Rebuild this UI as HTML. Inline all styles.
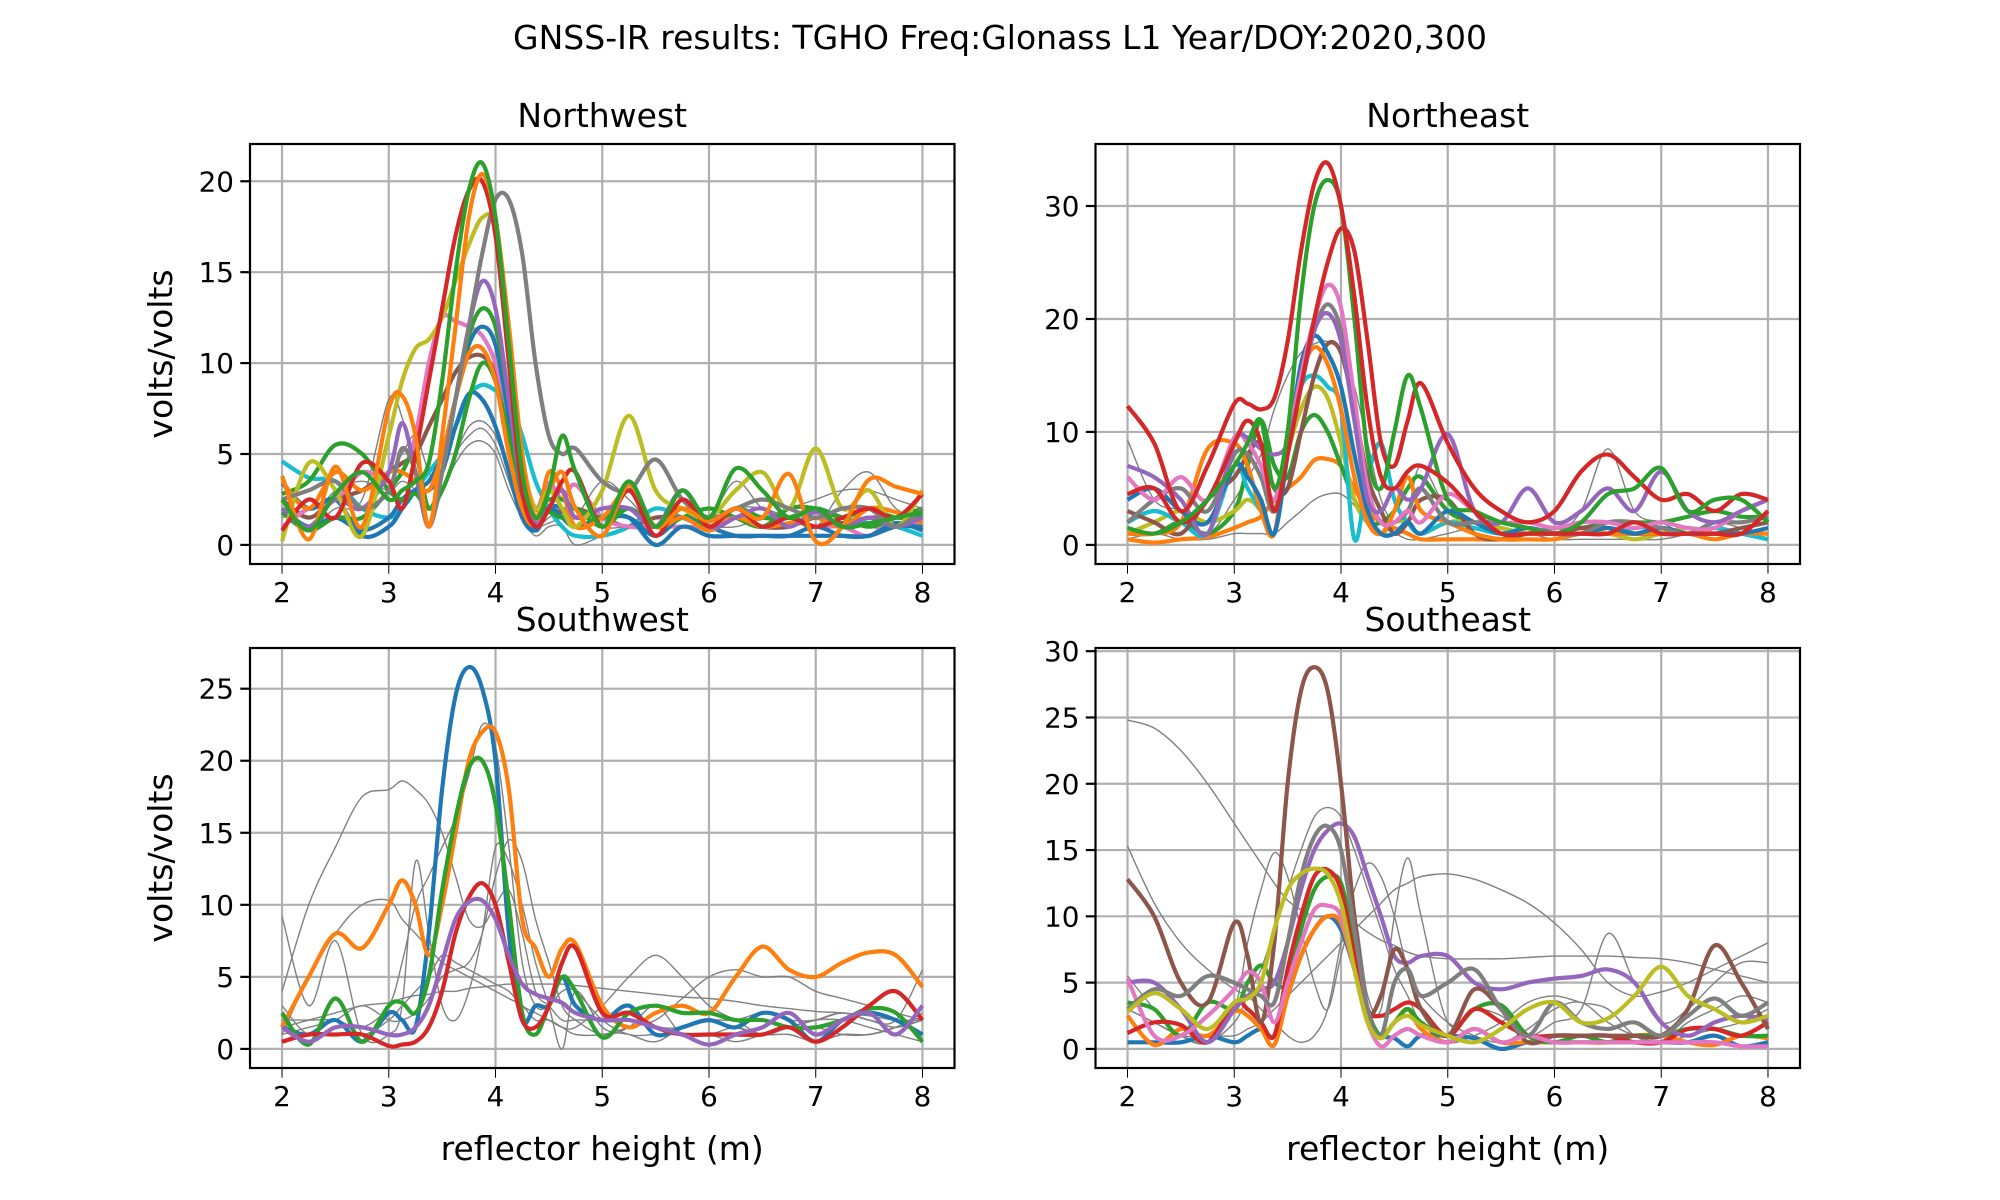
<!DOCTYPE html>
<html><head><meta charset="utf-8"><style>
html,body{margin:0;padding:0;background:#fff}
svg{display:block;font-family:"DejaVu Sans","Liberation Sans",sans-serif}
</style></head><body>
<svg id="fig" width="2000" height="1200" viewBox="0 0 2000 1200" xmlns="http://www.w3.org/2000/svg">
<rect width="2000" height="1200" fill="#fff"/>
<text x="1000" y="49" font-size="33" text-anchor="middle">GNSS-IR results: TGHO Freq:Glonass L1 Year/DOY:2020,300</text>
</svg>
<script>
const xGrid=[2,2.25,2.5,2.75,3,3.125,3.25,3.375,3.5,3.625,3.75,3.875,4,4.125,4.25,4.375,4.5,4.625,4.75,5,5.25,5.5,5.75,6,6.25,6.5,6.75,7,7.25,7.5,7.75,8];
const xTicks=[2,3,4,5,6,7,8];
const nwTicks=[0,5,10,15,20];
const neTicks=[0,10,20,30];
const swTicks=[0,5,10,15,20,25];
const seTicks=[0,5,10,15,20,25,30];
const C=['#1f77b4','#ff7f0e','#2ca02c','#d62728','#9467bd','#8c564b','#e377c2','#7f7f7f','#bcbd22','#17becf'];

const nwGray=[
[1.5,2,2.5,3,4,5,6,4,3,5,6.5,6.8,6,4,2,1,1.5,2,2,1,1,1,1,1,1,1.5,2,2.5,3,3,2.5,2],
[2,1,2,2.5,8,7,4,1,3,5,6,6.4,5.5,3.5,1.5,0.5,1,1,0,0.5,1,1,1.5,1,2,2,1.5,1,3,4,2,1.5],
[2.5,1.5,3,3.5,3,3.5,3,2,3,4.5,5.5,5.7,5,3,1.5,1,1.2,1.5,1.5,3.5,2.5,1,1.5,1.5,3.5,2,1.5,1,2,1,1,1]];
const nwSeries=[
[9,[4.6,3.7,3.5,2,1.5,2,3,4,5,6.5,8.2,8.8,8.5,8,6,3.5,2,1,0.5,0.5,1,2,1.5,1,1.5,1.5,1.5,2,1.5,1.2,1,0.5]],
[5,[2.5,1.5,2.5,3,4,4.5,5,6.5,8,9.5,10.3,10.4,9.5,7,4,2,2,1.8,2,1.5,1,1.5,1.5,1.5,1.5,1,1,1.5,1.2,1.5,1.5,2]],
[6,[1,2,2.5,4,3.5,4,6,10,12.5,12.3,12,11.5,10,7,4,2,3.4,2.5,3.3,1.5,1,1,1,1,1.5,1,1.5,1,1,0.5,1.5,1]],
[0,[2,1,1.5,0.8,1.5,2.5,3,3,4,6.5,8.3,8,6.5,4,1.5,0.8,2,2,1,1.5,1.5,0,1,0.5,0.5,0.5,0.5,0.5,0.5,0.5,1.2,0.8]],
[0,[3.4,2,2.5,0.5,1,2,3,3.5,5,8,11,12,11,7,2.5,0.8,2,1.5,1,1.5,1.5,0.5,1.5,1,0.5,0.5,0.5,1,0.5,0.5,1,1]],
[2,[2.8,3.5,5.5,5,3,2.5,2.8,2,3,5,8,10,9,6,3,2,2.5,2.5,2,1.5,2,1,1.5,2,1.5,1,2,2,1.5,1,1.5,2]],
[2,[1.8,0.8,1.5,1.5,3,4,5,2,4,8,11.5,13,12,8,3,1.5,1.8,1.5,2,1,2,1,2,1,2,1.5,1.5,2,1.5,2,1.5,1.6]],
[1,[3.5,2,4,3,4,4,3.5,3,5,8,10.5,10.8,9,5,2,1.2,4,3,1,1.5,3,1,1.5,0.8,1.5,1,1.2,1.5,1,2,1.8,1.2]],
[4,[2,1,2.5,2,4,6.7,4,1,4,8,12,14.5,13,8,3,1.2,2,3,1.5,2,2,1,3,1,1.5,2,1,1.8,1,1.5,1,1.5]],
[8,[0.2,4.5,3,0.5,6,9,10.8,11.3,12.5,14.5,16.5,18,17.5,12,5,2,3,2,1,3,7.1,3,2,1.5,3,4,2,5.3,2,3,1,3]],
[7,[2.5,3,3.5,2,3,5.3,4,1,4,8,12,16,19,19,16,10,6,5,5.3,3.5,3,4.7,2.5,1.5,2,2.5,2,1.5,2,2,1,2]],
[3,[0.8,2.5,1.5,4.5,3.5,2,5,9,13,17,19.5,20,17,10,3,1,2,3.5,4,1,3,0.5,2.5,1,2,1,1.5,1,1.5,2,1.5,2.8]],
[1,[3.8,0.3,4.3,1,7.5,8.2,6,1,6,12,18,20.4,18,12,5,1.5,3,4,2,0.5,3.3,1,2,1.3,2,1.5,3.9,0.2,1,3.6,3.2,2.8]],
[2,[2.5,0.8,2.8,4.0,2.5,3.0,3.5,4.5,9,15,19.5,21,18,11,4,1.5,3,6,4,1,3.5,1,3,1.5,4.2,3,1.5,2,1,1.2,1.5,1.8]]];

const neGray=[
[9.3,4,3,1,4,6,8,12,15,17,17.8,18,17,14,9,4,2,3,7,3,2,1,1.5,1,3,8.5,3,2,1,2,1.5,1],
[0.5,1,0.5,0.5,1,1,1,1,2,3,4,4.5,4.5,3.5,2,1,1,0.5,0.5,1,1.5,1,1,0.5,0.5,0.5,0.5,0.5,1,2,1.5,1]];
const neSeries=[
[1,[0.5,0.2,0.5,0.7,1.5,2,2.5,4,5,6,7.5,7.6,7,5,3,2,1.5,1,0.5,0.5,0.5,0.5,1,1.5,1.5,1,1,1,1,1,1,0.5]],
[2,[1.5,1,2,1,3,7,11,7,6,10,11.5,10,7,4,2,2,3,5,6,3,2,1.5,1,1.5,1.5,2,2,2,2.5,3,2.5,2.5]],
[8,[1,2,3,2,3,4,3,1,8,12,14,13,9,4,2,1,2,2,1,2,2,1.5,1,1,1,1,0.5,1,1.5,1,1,1]],
[9,[2,3,2,1,7,5,3,1,9,14,15,14,12,0.5,6,9,4,2,1,2,1.5,1,1.5,1,1,1,1.5,1.5,1,1.5,1,0.5]],
[5,[3,2,1,4,6,8,9,5,5,10,15,17.8,17,12,6,3,1,2,4,4,1,0.5,1,1,1.5,1.5,1,1,1,1,1.5,2]],
[1,[1,1,2,8.5,9,7,3,1,9,15,17.5,16,12,6,2,1,3,6,3,2,1,0.5,0.5,0.5,1,1,1,1,1,0.5,1,1]],
[0,[4,5,3,2,7,6,4,1,8,16,18.5,17,14,8,3,1,1,2,1,3,2,1,1.5,1,1,1.5,1,1.5,1,1,1,1.5]],
[7,[2,4,5,3,8,8,6,3,9,14,19,21.3,19,12,5,2,2,3,5,2,2,2,1.5,1,1,2,2,1.5,1,2,2,2.5]],
[6,[6,4,6,4,9.5,9,7,4,9,15,20,23,21,13,5,2,2,3,2,4.5,3,2,2,1.5,2,2,1.5,2,1.5,1.5,3,4]],
[4,[7,6,4,1,9,9.5,8.5,8,9,14,19,20.5,18,11,4,3,5,4,5,9.8,3,2,5,2,3,5,3,6.5,3,2,3,4]],
[3,[4.5,5,2,4,9,11,9,3,8,14,20,25,28,26,18,9,7,11,14.3,9,5,3,2,3,6.5,8,6,4,4.5,3,4.5,4]],
[2,[1.5,1,2,4,7,9,11,5,10,22,30,32.3,30,20,8,5,10,15,12,4,3,2,1.5,1,2,4.5,5,6.8,3,4,4,2]],
[3,[12.3,9,3,7,12.5,12.5,12,13,18,26,32,33.8,30,22,12,6,5,6.5,7,5.5,3,1,1,1,1,1,2,1,1,1,1,3]]];

const swGray=[
[4,10,14,17.5,18,18.6,18,17,15,12,9,8.5,10,11,8,4,3,2,2,2,2,1.5,1.5,2,2,2.5,2,2,2.5,2,1.5,2],
[2,2,2,1.5,3,6,10,12,14,16,19,22.5,21,14,6,3,3,4,4,2,1,1,1,1,1.5,1,1.5,1.5,1,1,1.5,2.5],
[9.2,3,7.5,1,1,3,13,8,3,2,4,8,14,13,10,6,3,0,4,1.5,1,0.5,1.5,2,1.5,1,1,0.5,1,1,1.5,2],
[1,1.5,2,3,2,2,2.5,3.5,5,5.5,6,8,12,14.5,13,9,6,3,2,1,1.5,3,1,1,0.5,1,1.5,2,2,1.5,1,0.5],
[1,5,8,10,10.3,9,8,7,6,5.5,5,4.5,4,3.5,3,2,2,1.5,1,1,1.5,2,3.5,5,5.5,5,5,4,3.5,3,2.5,2],
[1.5,2,2.5,3,3.2,3.5,3.7,3.8,4,4,4.2,4.3,4.4,4.5,4.5,4.5,4.5,4.5,4.4,4.2,4,3.8,3.6,3.5,3.3,3,2.8,2.6,2.5,2.3,2,2],
[3,1,2,1,2,3,4,5,6.5,6,5.5,5,4.5,4,3,2.5,2,1.5,1.5,3,5,6.5,5,3,2,1,1.5,2,2.5,2,2,5.5]];
const swSeries=[
[0,[1.5,1,2,0.5,2.5,2,1.5,8,18,24.5,26.5,25,20,8,2,3,3,5,3,2,3,1,1.5,2,1.5,2.5,2,0.5,2,2.5,2,1]],
[1,[1.5,5,8,7,10,11.7,10,6.5,10,15,20,22,22,18,9,7,5,7,7.3,3,1.5,2.5,3,2.5,5,7.1,5.5,5,6,6.7,6.5,4.3]],
[2,[2.5,0.3,3.5,0.5,3,3.2,2.5,5,11,16,19.5,20,17,10,2.5,1,3,5,4,0.8,2.5,3,2.5,2.5,2,2,1.5,1.5,2,2.8,2.5,0.5]],
[3,[0.5,1,1,1,0.2,0.3,0.5,1.5,4,8,10.5,11.5,10,6,2,1.5,3,6,7,2.5,2.5,1.5,1,1,1,1,1.5,0.5,1.5,3,4,2]],
[4,[1.5,0.5,1.5,1.5,1,1,1.5,3,6,9,10.2,10.3,9,6.5,4.5,3.8,3.5,3.2,2.5,2,2,1.5,1,0.3,1,1.5,2.5,1,2,2.5,1,3]]];

const seGray=[
[24.8,24.2,22.5,20,17,15.5,14,12.5,11.2,10.5,10,10,9.8,9.5,8.8,8.2,7.8,7.3,7,6.8,6.8,6.8,6.9,7,7,7,6.9,6.8,6.5,6,5.5,5],
[15.3,11,8,6,4.5,4,3,2,1,0.5,1,3,8,12,14,13,10,6,4,2,1,0.5,1.5,3,3.5,2,1,0.5,1,1.5,2,3],
[3,2,1,1,1,1.5,2,3,4,5,6,7,8,9,10,11,12,12.5,13,13.2,12.8,12,11,9.5,7.5,5,4,4.3,5,6,7,8],
[3,2,1,0.5,2,4,6,9,12,15,17.5,18.2,17.5,15,12,9,6,4,2,0.5,1,2,3.5,4,3.5,3,1,0.5,2,3,4,3.5],
[5.5,3,1,0.5,3,8,12,14.8,13,9,5,3,7,10,4,3,10,14.4,10,2,3,2.5,1,2,3,8.7,5,2,3,5,6.5,6.5]];
const seSeries=[
[0,[0.5,0.5,0.5,1,0.5,1,1.5,1,4,7,9,10,9,6,2,1,0.8,0.2,1,1,0.8,0,0.5,0.5,0.5,0.5,0.5,0.5,0.5,1,0.2,0.5]],
[1,[2.5,0.3,1.5,1,2.8,2.5,1.5,0.3,4,7,9,10,9.5,6,2,1,2,3,1.5,0.5,1.5,0.5,0.5,0.5,0.5,0.5,1,1,0.5,0.3,1,0.8]],
[2,[3.5,3,1,3.5,3,5,6.3,5,5,9,12,13,12.5,8,3,1,2,3,2,1,3,3.3,1,0.5,1,0.5,1,1,1.5,1.5,1,1]],
[3,[1.2,2,1.8,0.5,3.5,3,2,1,6,10,13,13.5,12,7,3,2.5,3,3.5,3,1,3,2,1,1,1,1,0.5,0.5,1.5,1.5,1,2]],
[4,[5,5,3,0.5,3,4,4.5,5,8,12,15,16.5,17,16,13,10,7,6.5,7,7,5,4.5,5,5.3,5.5,6,5,2,1,2,2.5,2.2]],
[5,[12.8,10,5,3.5,9.5,7,2,8,20,27,28.8,27,20,10,3,4,7.5,6,3,1,4.5,3,0.5,1,1,1,1,1,3,7.8,5,1.5]],
[6,[5.3,1,1,2.5,4.5,5.8,5,2,5,8,10.5,10.8,10,6,2,0.2,1,1.5,1,0.5,1.5,0.5,1,0.5,0.5,0.5,0.5,0.5,0.5,0.5,0.2,0.2]],
[7,[3,4.5,4,5.5,5,4.5,4,3.5,8,13,16,16.8,15,9,3,1,5,6,4,5,6,3,1,3.5,2,1.5,2,1,2.5,3.8,2.5,3.5]],
[8,[2.8,4.2,3,1.5,3.5,3.8,5,9,12,13.2,13.6,13.2,11,6,2,0.8,2,2.5,1.8,1,0.5,1.5,3,3.5,2,2.3,4,6.2,4,3,2,2.5]]];

const NS='http://www.w3.org/2000/svg';
const fig=document.getElementById('fig');
function mk(tag,attrs,parent){const e=document.createElementNS(NS,tag);for(const k in attrs)e.setAttribute(k,attrs[k]);(parent||fig).appendChild(e);return e;}
function pathD(pts){let d='M'+pts[0][0].toFixed(1)+','+pts[0][1].toFixed(1);
 for(let i=0;i<pts.length-1;i++){const p0=pts[i-1]||pts[i],p1=pts[i],p2=pts[i+1],p3=pts[i+2]||p2;
  const c1x=p1[0]+(p2[0]-p0[0])/6,c1y=p1[1]+(p2[1]-p0[1])/6,c2x=p2[0]-(p3[0]-p1[0])/6,c2y=p2[1]-(p3[1]-p1[1])/6;
  d+=' C'+c1x.toFixed(1)+','+c1y.toFixed(1)+' '+c2x.toFixed(1)+','+c2y.toFixed(1)+' '+p2[0].toFixed(1)+','+p2[1].toFixed(1);}
 return d;}
function panel(id,title,L,T,W,H,yTicks,gray,series,showX,showY){
 let mx=0,mn=0;gray.concat(series.map(s=>s[1])).forEach(a=>a.forEach(v=>{mx=Math.max(mx,v);mn=Math.min(mn,v);}));
 const y0=mn-0.05*(mx-mn),y1=mx+0.05*(mx-mn);
 const sx=x=>L+(x-1.7)/6.6*W, sy=y=>T+H-(y-y0)/(y1-y0)*H;
 const g=mk('g',{});
 
 
 mk('clipPath',{id:id+'clip'},g);mk('rect',{x:L,y:T,width:W,height:H},g.lastChild);
 const grid=mk('g',{stroke:'#b0b0b0','stroke-width':2.2},g);
 
 
 xTicks.forEach(t=>{mk('line',{x1:sx(t),x2:sx(t),y1:T,y2:T+H},grid);mk('line',{x1:sx(t),x2:sx(t),y1:T+H,y2:T+H+9.7,stroke:'#000'},g);
  const tx=mk('text',{x:sx(t),y:T+H+38,'font-size':27.8,'text-anchor':'middle'},g);tx.textContent=t;
  
  });
 yTicks.forEach(t=>{if(t<y0||t>y1)return;mk('line',{x1:L,x2:L+W,y1:sy(t),y2:sy(t)},grid);mk('line',{x1:L-9.7,x2:L,y1:sy(t),y2:sy(t),stroke:'#000','stroke-width':2.2},g);
  const tx=mk('text',{x:L-16,y:sy(t)+10,'font-size':27.8,'text-anchor':'end'},g);tx.textContent=t;
  
  });
 const lines=mk('g',{'clip-path':'url(#'+id+'clip)',fill:'none','stroke-linejoin':'round'},g);
 gray.forEach(a=>{const p=mk('path',{d:pathD(a.map((v,i)=>[sx(xGrid[i]),sy(v)])),stroke:'#808080','stroke-width':1.4},lines);
  
  });
 series.forEach(s=>{const p=mk('path',{d:pathD(s[1].map((v,i)=>[sx(xGrid[i]),sy(v)])),stroke:C[s[0]],'stroke-width':4.2},lines);
  
  });
 mk('rect',{x:L,y:T,width:W,height:H,fill:'none',stroke:'#000','stroke-width':2.2},g);
 const tt=mk('text',{x:L+W/2,y:T-17,'font-size':33,'text-anchor':'middle'},g);tt.textContent=title;
 
 
 if(showX){const xl=mk('text',{x:L+W/2,y:T+H+92,'font-size':33,'text-anchor':'middle'},g);xl.textContent='reflector height (m)';
  
  }
 if(showY){const yl=mk('text',{x:0,y:0,'font-size':33,'text-anchor':'middle',transform:'translate(172,'+(T+H/2)+') rotate(-90)'},g);yl.textContent='volts/volts';
  
  }
}
panel('northwest','Northwest',250,144,704.5,420,nwTicks,nwGray,nwSeries,false,true);
panel('northeast','Northeast',1095.5,144,704.5,420,neTicks,neGray,neSeries,false,false);
panel('southwest','Southwest',250,648,704.5,420,swTicks,swGray,swSeries,true,true);
panel('southeast','Southeast',1095.5,648,704.5,420,seTicks,seGray,seSeries,true,false);
</script>
</body></html>
